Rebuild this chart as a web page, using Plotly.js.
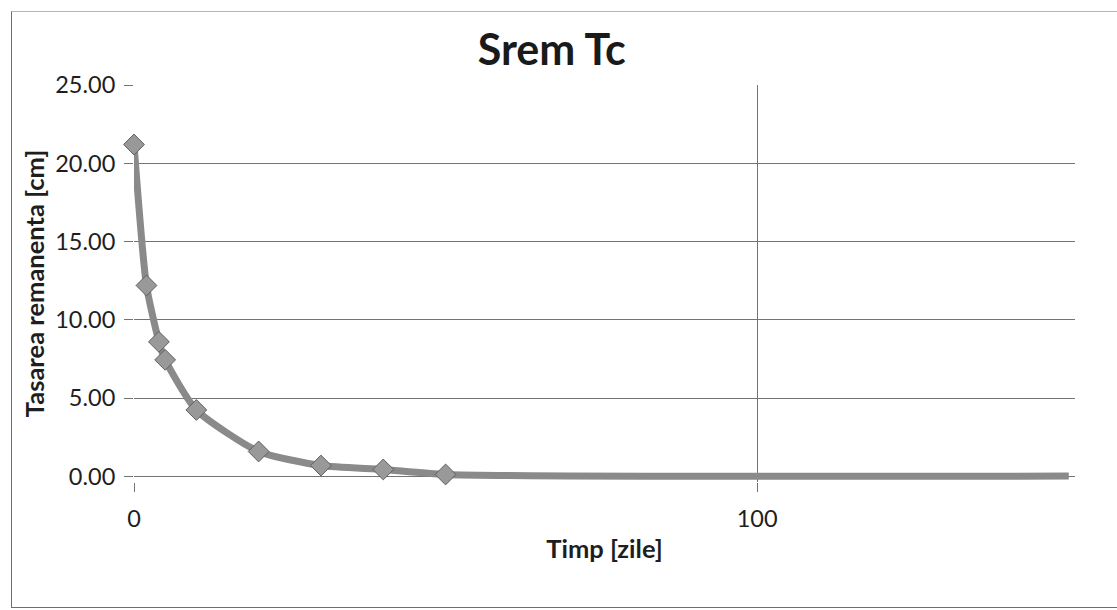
<!DOCTYPE html>
<html>
<head>
<meta charset="utf-8">
<script src="https://cdn.plot.ly/plotly-3.0.1.min.js"></script>
<style>
html,body{margin:0;padding:0;background:#fff;}
#chart{width:1117px;height:610px;position:absolute;left:0;top:0;}
#frame{position:absolute;left:11px;top:11px;width:1120px;height:595px;border:1.5px solid #6e6e6e;border-top-color:#b5b5b5;pointer-events:none;}
</style>
</head>
<body>
<div id="chart"></div>
<div id="frame"></div>
<script>
// Data
const timpZile = [0, 2, 4, 5, 10, 20, 30, 40, 50, 150];
const tasareaCm = [21.2, 12.2, 8.6, 7.45, 4.25, 1.6, 0.7, 0.45, 0.13, 0.03];
const markerCount = 9; // points drawn with diamond markers
const chartTitle = 'Srem Tc';
const xTitle = 'Timp [zile]';
const yTitle = 'Tasarea remanenta [cm]';

const FONT = 'Lato, "Open Sans", sans-serif';

const traces = [
  {
    x: timpZile, y: tasareaCm, type: 'scatter', mode: 'lines',
    line: {color: '#8a8a8a', width: 7, shape: 'spline', smoothing: 0.6},
    hoverinfo: 'skip', showlegend: false
  },
  {
    x: timpZile.slice(0, markerCount), y: tasareaCm.slice(0, markerCount),
    type: 'scatter', mode: 'markers',
    marker: {symbol: 'diamond', size: 16, color: '#999999', line: {color: '#5f5f5f', width: 1}},
    cliponaxis: false, showlegend: false
  }
];

const layout = {
  width: 1117, height: 610,
  margin: {l: 134, r: 42, t: 85, b: 128},
  paper_bgcolor: '#ffffff', plot_bgcolor: '#ffffff',
  font: {family: FONT, color: '#1e1e1e', size: 23.5},
  showlegend: false,
  title: {text: '<b>' + chartTitle + '</b>', font: {family: FONT, size: 43, color: '#1a1a1a'},
          x: 0.494, xref: 'container', xanchor: 'center', y: 0.918, yref: 'container', yanchor: 'middle'},
  xaxis: {
    range: [0, 151], tickvals: [0, 100], ticktext: ['0', '100'],
    showgrid: true, gridcolor: '#737373', gridwidth: 1,
    zeroline: false, showline: false,
    ticks: 'outside', ticklen: 9, tickcolor: '#737373',
    ticklabelstandoff: 7,
    tickfont: {size: 23.5, family: FONT},
    title: {text: '<b>' + xTitle + '</b>', font: {size: 25.5, family: FONT}, standoff: 8}
  },
  yaxis: {
    range: [-0.35, 25], tickvals: [0, 5, 10, 15, 20, 25], tickformat: '.2f',
    showgrid: true, gridcolor: '#737373', gridwidth: 1,
    zeroline: false, showline: false,
    ticks: 'outside', ticklen: 9, tickcolor: '#737373',
    ticklabelstandoff: 4,
    tickfont: {size: 23.5, family: FONT},
    title: {text: '<b>' + yTitle + '</b>', font: {size: 25.5, family: FONT}, standoff: 3}
  }
};

Plotly.newPlot('chart', traces, layout, {displayModeBar: false, staticPlot: true});
</script>
</body>
</html>
